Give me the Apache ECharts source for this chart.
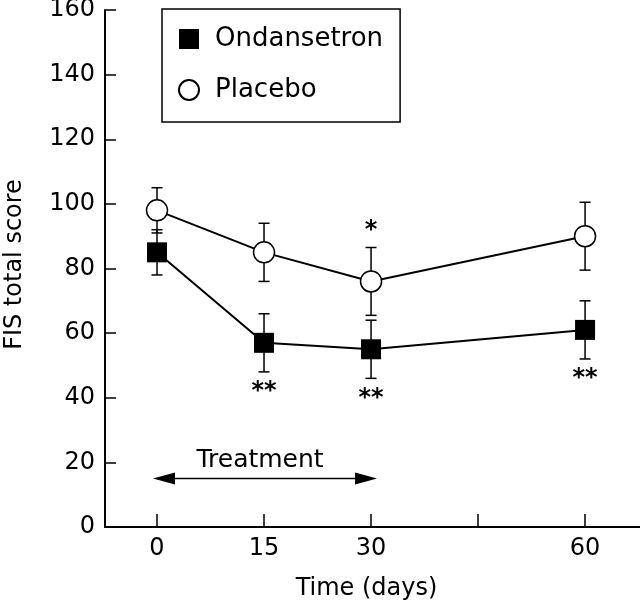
<!DOCTYPE html>
<html><head><meta charset="utf-8">
<script src="https://cdn.jsdelivr.net/npm/echarts@6/dist/echarts.min.js"></script>
<style>html,body{margin:0;padding:0;background:#fff}#c{width:640px;height:604px}</style>
</head><body><div id="c"></div>
<script>
const days = [0, 15, 30, 60];
const ondMean = [85, 57, 55, 61];
const ondErr = [7, 9, 9, 9];
const plaMean = [98, 85, 76, 90];
const plaErr = [7, 9, 10.5, 10.5];
const ondSig = ['', '**', '**', '**'];
const plaSig = ['', '', '*', ''];
const xTicks = [0, 15, 30, 45, 60];
const xLabels = [0, 15, 30, 60];
const treatment = [0, 30];
const treatmentLevel = 15;
const treatmentLabel = 'Treatment';
const seriesNames = ['Ondansetron', 'Placebo'];

const FONT = 'DejaVu Sans';
const chart = echarts.init(document.getElementById('c'), null, {renderer: 'canvas'});

function errRender(meanArr, errArr) {
  return function (params, api) {
    const i = params.dataIndex;
    const x = days[i];
    const p1 = api.coord([x, meanArr[i] + errArr[i]]);
    const p2 = api.coord([x, meanArr[i] - errArr[i]]);
    const w = 5.5;
    const style = {stroke: '#000', lineWidth: 1.5};
    return {type: 'group', children: [
      {type: 'line', shape: {x1: p1[0], y1: p1[1], x2: p2[0], y2: p2[1]}, style},
      {type: 'line', shape: {x1: p1[0] - w, y1: p1[1], x2: p1[0] + w, y2: p1[1]}, style},
      {type: 'line', shape: {x1: p2[0] - w, y1: p2[1], x2: p2[0] + w, y2: p2[1]}, style}
    ]};
  };
}

function sigRender(meanArr, errArr, sigArr, below) {
  return function (params, api) {
    const i = params.dataIndex;
    if (!sigArr[i]) return null;
    const x = days[i];
    const v = below ? meanArr[i] - errArr[i] : meanArr[i] + errArr[i];
    const p = api.coord([x, v]);
    return {type: 'text', x: p[0], y: below ? p[1] + 20 : p[1] - 17,
      style: {text: sigArr[i], fill: '#000', fontSize: 24, fontFamily: FONT, fontWeight: 'bold', align: 'center', verticalAlign: 'middle'}};
  };
}

function arrowRender(params, api) {
  const a = api.coord([treatment[0], treatmentLevel]);
  const b = api.coord([treatment[1], treatmentLevel]);
  const lx = a[0] - 4, rx = b[0] + 6, y = a[1];
  const hl = 22, hh = 6;
  return {type: 'group', children: [
    {type: 'line', shape: {x1: lx + 5, y1: y, x2: rx - 5, y2: y}, style: {stroke: '#000', lineWidth: 1.5}},
    {type: 'polygon', shape: {points: [[lx, y], [lx + hl, y - hh], [lx + hl, y + hh]]}, style: {fill: '#000'}},
    {type: 'polygon', shape: {points: [[rx, y], [rx - hl, y - hh], [rx - hl, y + hh]]}, style: {fill: '#000'}},
    {type: 'text', x: (a[0] + b[0]) / 2 - 4, y: y - 18,
      style: {text: treatmentLabel, fill: '#000', fontSize: 25, fontFamily: FONT, align: 'center', verticalAlign: 'middle'}}
  ]};
}

const option = {
  animation: false,
  backgroundColor: '#fff',
  textStyle: {fontFamily: FONT},
  grid: {left: 105, right: 0, top: 10, bottom: 77, outerBoundsMode: 'none', containLabel: false},
  legend: {
    left: 162, top: 9, orient: 'vertical',
    data: [{name: seriesNames[0], icon: 'rect'}, {name: seriesNames[1], icon: 'circle'}],
    itemWidth: 20, itemHeight: 20, itemGap: 25,
    padding: [17, 17, 19, 16],
    borderColor: '#000', borderWidth: 1.5, borderRadius: 0,
    selectedMode: false,
    textStyle: {fontSize: 26, color: '#000', fontFamily: FONT, padding: [0, 0, 0, 11]}
  },
  xAxis: {
    type: 'value', min: -7.29, max: 67.7,
    name: 'Time (days)', nameLocation: 'middle', nameGap: 50,
    nameTextStyle: {fontSize: 24, color: '#000', fontFamily: FONT, padding: [0, 12, 0, 0]},
    axisLine: {onZero: false, lineStyle: {color: '#000', width: 2}},
    axisTick: {inside: true, length: 13, customValues: xTicks, lineStyle: {color: '#000', width: 1.5}},
    axisLabel: {customValues: xLabels, fontSize: 24, color: '#000', fontFamily: FONT, margin: 10},
    splitLine: {show: false}
  },
  yAxis: {
    type: 'value', min: 0, max: 160, interval: 20,
    name: 'FIS total score', nameLocation: 'middle', nameGap: 78, nameRotate: 90,
    nameTextStyle: {fontSize: 24, color: '#000', fontFamily: FONT, padding: [0, 0, 0, 8]},
    axisLine: {show: true, onZero: false, lineStyle: {color: '#000', width: 2}},
    axisTick: {show: true, inside: true, length: 11, lineStyle: {color: '#000', width: 1.5}},
    axisLabel: {fontSize: 24, color: '#000', fontFamily: FONT, margin: 10},
    splitLine: {show: false}
  },
  series: [
    {type: 'custom', name: 'errO', z: 1, silent: true, data: days.map((d, i) => [d, ondMean[i]]), renderItem: errRender(ondMean, ondErr)},
    {type: 'custom', name: 'errP', z: 1, silent: true, data: days.map((d, i) => [d, plaMean[i]]), renderItem: errRender(plaMean, plaErr)},
    {type: 'line', name: seriesNames[0], z: 3, data: days.map((d, i) => [d, ondMean[i]]),
      symbol: 'rect', symbolSize: 20, itemStyle: {color: '#000'}, lineStyle: {color: '#000', width: 2}, emphasis: {disabled: true}},
    {type: 'line', name: seriesNames[1], z: 4, data: days.map((d, i) => [d, plaMean[i]]),
      symbol: 'circle', symbolSize: 21, itemStyle: {color: '#fff', borderColor: '#000', borderWidth: 1.5}, lineStyle: {color: '#000', width: 2}, emphasis: {disabled: true}},
    {type: 'custom', name: 'sigO', z: 5, silent: true, data: days.map((d, i) => [d, ondMean[i]]), renderItem: sigRender(ondMean, ondErr, ondSig, true)},
    {type: 'custom', name: 'sigP', z: 5, silent: true, data: days.map((d, i) => [d, plaMean[i]]), renderItem: sigRender(plaMean, plaErr, plaSig, false)},
    {type: 'custom', name: 'arrow', z: 5, silent: true, data: [[treatment[0], treatmentLevel]], renderItem: arrowRender}
  ]
};
chart.setOption(option);
</script>
</body></html>
